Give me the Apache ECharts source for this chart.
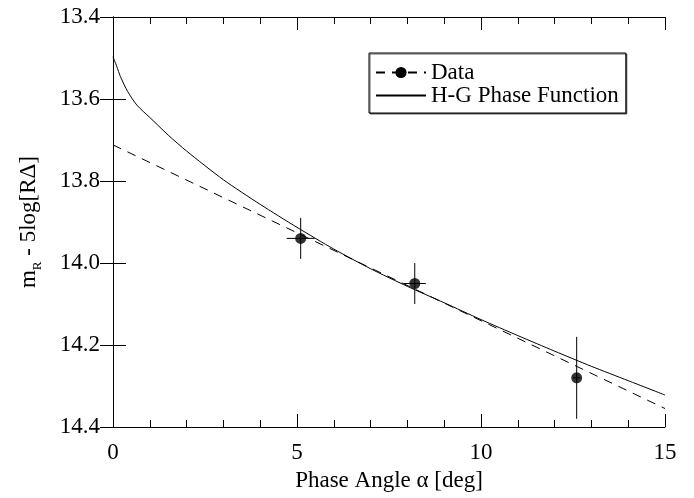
<!DOCTYPE html>
<html>
<head>
<meta charset="utf-8">
<script src="https://cdn.jsdelivr.net/npm/echarts@6/dist/echarts.min.js"></script>
<style>
html,body{margin:0;padding:0;background:#fff;}
#chart{width:694px;height:498px;}
</style>
</head>
<body>
<div id="chart"></div>
<script>
// Observed data points
var dataX = [5.1, 8.2, 12.6];
var dataY = [13.94, 14.05, 14.28];
var dataXErr = [0.38, 0.3, 0.1];
var dataYErr = [0.05, 0.05, 0.1];

// Linear fit (dashed)
var fitX = [0, 15];
var fitY = [13.712, 14.355];

// H-G phase function curve
var hgX = [0, 0.1, 0.2, 0.4, 0.65, 1.0, 1.5, 2.0, 3.0, 4.0, 5.0, 6.0, 7.0, 8.0, 9.0, 10.0, 11.0, 12.0, 13.0, 14.0, 15.0];
var hgY = [13.497, 13.52, 13.545, 13.582, 13.615, 13.645, 13.688, 13.727, 13.797, 13.857, 13.913, 13.966, 14.014, 14.057, 14.097, 14.138, 14.177, 14.215, 14.252, 14.287, 14.322];

var FONT = 'Liberation Serif';
var FS = 23;

function pairs(xs, ys) { return xs.map(function (x, i) { return [x, ys[i]]; }); }

var chart = echarts.init(document.getElementById('chart'), null, {renderer: 'canvas'});

var axisLineStyle = {lineStyle: {color: '#000', width: 1}};

var option = {
  backgroundColor: '#fff',
  animation: false,
  grid: {left: 113, right: 29, top: 17, bottom: 71, containLabel: false},
  legend: {
    left: 369, top: 53, orient: 'vertical',
    itemWidth: 50, itemHeight: 14, itemGap: 0,
    padding: [8, 7, 6, 6],
    backgroundColor: '#fff', borderColor: '#000', borderWidth: 1,
    shadowColor: 'rgba(0,0,0,0.6)', shadowOffsetX: 1, shadowOffsetY: 1, shadowBlur: 0,
    textStyle: {fontFamily: FONT, fontSize: FS, color: '#000', lineHeight: 23},
    data: ['Data', {name: 'H-G Phase Function', itemStyle: {opacity: 0}}]
  },
  xAxis: [{
    type: 'value', min: 0, max: 15, interval: 5, position: 'bottom',
    axisLine: axisLineStyle,
    axisTick: {inside: true, length: 13, lineStyle: {color: '#000'}},
    minorTick: {show: true, splitNumber: 5, length: 7, lineStyle: {color: '#000'}},
    splitLine: {show: false},
    axisLabel: {margin: 14, fontFamily: FONT, fontSize: FS, color: '#000'},
    name: 'Phase Angle \u03b1 [deg]', nameLocation: 'middle', nameGap: 42,
    nameTextStyle: {fontFamily: FONT, fontSize: FS, color: '#000'}
  }, {
    type: 'value', min: 0, max: 15, interval: 5, position: 'top',
    axisLine: axisLineStyle,
    axisTick: {inside: true, length: 13, lineStyle: {color: '#000'}},
    minorTick: {show: true, splitNumber: 5, length: 7, lineStyle: {color: '#000'}},
    splitLine: {show: false},
    axisLabel: {show: false}
  }],
  yAxis: [{
    type: 'value', min: 13.4, max: 14.4, interval: 0.2, inverse: true, position: 'left',
    axisLine: axisLineStyle,
    axisTick: {inside: true, length: 13, lineStyle: {color: '#000'}},
    splitLine: {show: false},
    axisLabel: {margin: 13, fontFamily: FONT, fontSize: FS, color: '#000',
      formatter: function (v) { return v.toFixed(1); }},
    name: '{m|m}{sub|R}{m| - 5log[R\u0394]}', nameLocation: 'middle', nameGap: 69,
    nameTextStyle: {
      fontFamily: FONT, fontSize: FS, color: '#000',
      rich: {
        m: {fontFamily: FONT, fontSize: FS, color: '#000', lineHeight: 30, verticalAlign: 'middle'},
        sub: {fontFamily: FONT, fontSize: 13, color: '#000', lineHeight: 30, verticalAlign: 'bottom'}
      }
    }
  }, {
    type: 'value', min: 13.4, max: 14.4, interval: 0.2, inverse: true, position: 'right',
    axisLine: axisLineStyle,
    axisTick: {inside: true, length: 13, lineStyle: {color: '#000'}},
    splitLine: {show: false},
    axisLabel: {show: false}
  }],
  series: [{
    name: 'Data', type: 'line', xAxisIndex: 0, yAxisIndex: 0,
    data: pairs(fitX, fitY),
    showSymbol: false, symbol: 'circle', symbolSize: 11,
    itemStyle: {color: '#000'},
    lineStyle: {color: '#000', width: 1, type: [9, 7]},
    silent: true
  }, {
    name: 'H-G Phase Function', type: 'line', xAxisIndex: 0, yAxisIndex: 0,
    data: pairs(hgX, hgY),
    showSymbol: false, symbol: 'circle', symbolSize: 0,
    smooth: 0.25,
    itemStyle: {color: '#000'},
    lineStyle: {color: '#000', width: 1},
    silent: true
  }, {
    name: 'errors', type: 'custom', xAxisIndex: 0, yAxisIndex: 0,
    data: dataX.map(function (x, i) { return [x, dataY[i], dataXErr[i], dataYErr[i]]; }),
    encode: {x: 0, y: 1},
    renderItem: function (params, api) {
      var x = api.value(0), y = api.value(1), xe = api.value(2), ye = api.value(3);
      var c = api.coord([x, y]);
      var l = api.coord([x - xe, y]);
      var r = api.coord([x + xe, y]);
      var t = api.coord([x, y - ye]);
      var b = api.coord([x, y + ye]);
      var st = {stroke: '#000', lineWidth: 1};
      return {type: 'group', children: [
        {type: 'line', shape: {x1: l[0], y1: c[1], x2: r[0], y2: c[1]}, style: st},
        {type: 'line', shape: {x1: c[0], y1: t[1], x2: c[0], y2: b[1]}, style: st}
      ]};
    },
    silent: true
  }, {
    name: 'points', type: 'scatter', xAxisIndex: 0, yAxisIndex: 0,
    data: pairs(dataX, dataY),
    symbol: 'circle', symbolSize: 11,
    itemStyle: {color: '#000'},
    silent: true
  }]
};
chart.setOption(option);
</script>
</body>
</html>
